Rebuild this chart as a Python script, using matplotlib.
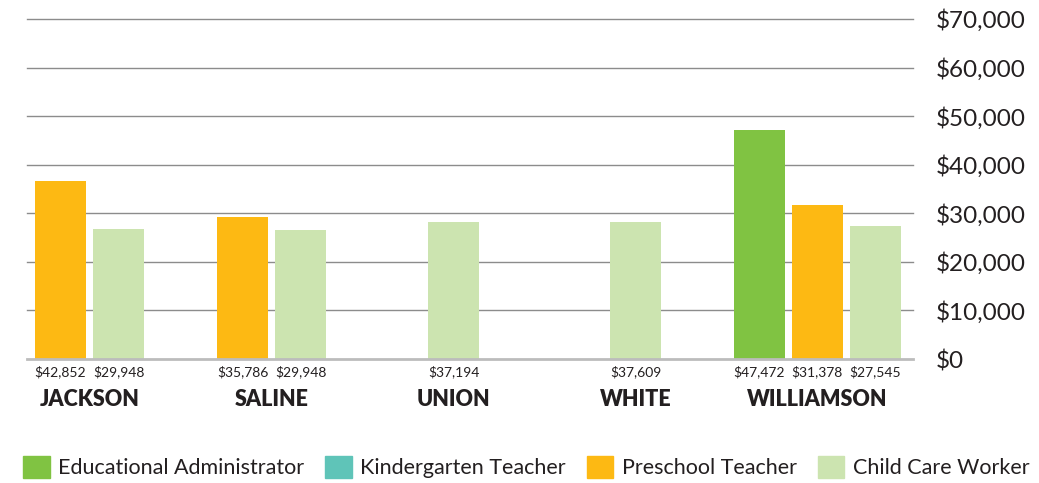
import numpy as np
import matplotlib.pyplot as plt
from matplotlib.patches import Patch
from matplotlib.transforms import blended_transform_factory, offset_copy

counties = ['JACKSON', 'SALINE', 'UNION', 'WHITE', 'WILLIAMSON']
series = ['Educational Administrator', 'Kindergarten Teacher', 'Preschool Teacher', 'Child Care Worker']
colors = ['#80c342', '#5fc4b8', '#fdb913', '#cce4b0']

# bar heights as drawn (None = no bar)
admin_h = [None, None, None, None, 47100]
kinder_h = [None, None, None, None, None]
preschool_h = [36600, 29200, None, None, 31700]
childcare_h = [26700, 26500, 28200, 28200, 27400]

# wage labels printed under each bar
admin_lbl = [None, None, None, None, 47472]
kinder_lbl = [None, None, None, None, None]
preschool_lbl = [42852, 35786, None, None, 31378]
childcare_lbl = [29948, 29948, 37194, 37609, 27545]

heights = [admin_h, kinder_h, preschool_h, childcare_h]
labels = [admin_lbl, kinder_lbl, preschool_lbl, childcare_lbl]

yticks = np.arange(0, 70001, 10000)

plt.rcParams['font.family'] = ['Lato', 'DejaVu Sans']
txt = '#231f20'

fig = plt.figure(figsize=(10.39, 4.83), dpi=100)
ax = fig.add_axes([0.026, 0.2567, 0.853, 0.704])

bw = 0.28
step = 0.319
for ci, county in enumerate(counties):
    present = [si for si in range(len(series)) if heights[si][ci] is not None]
    n = len(present)
    for k, si in enumerate(present):
        x = ci + (k - (n - 1) / 2) * step
        ax.bar(x, heights[si][ci], width=bw, color=colors[si], zorder=3)
        tr = offset_copy(blended_transform_factory(ax.transData, ax.transAxes),
                         fig=fig, x=0, y=-13, units='dots')
        ax.text(x, 0, f'${labels[si][ci]:,}', transform=tr, ha='center', va='center',
                fontsize=10, color=txt)
    tr = offset_copy(blended_transform_factory(ax.transData, ax.transAxes),
                     fig=fig, x=0, y=-40, units='dots')
    ax.text(ci, 0, county, transform=tr, ha='center', va='center',
            fontsize=15.5, fontweight='heavy', color=txt)

for y in yticks[1:]:
    ax.axhline(y, color='#8c8c8c', lw=1, zorder=1, clip_on=False)
ax.axhline(0, color='#bcbcbc', lw=2, zorder=4, clip_on=False)

ax.set_xlim(-0.344, 4.527)
ax.set_ylim(0, 70000)
ax.set_xticks([])
ax.set_yticks(yticks)
ax.set_yticklabels([f'${v:,}' for v in yticks])
ax.yaxis.tick_right()
ax.tick_params(axis='y', length=0, pad=16, labelsize=17.5, labelcolor=txt)
for s in ax.spines.values():
    s.set_visible(False)

handles = [Patch(color=c) for c in colors]
fig.legend(handles, series, loc='center left', bbox_to_anchor=(0.022, 0.033), ncol=4,
           frameon=False, fontsize=15.5, handlelength=1.25, handleheight=1.25,
           handletextpad=0.4, columnspacing=0.95, borderpad=0, borderaxespad=0,
           labelcolor=txt)

fig.savefig('out.png', dpi=100)
